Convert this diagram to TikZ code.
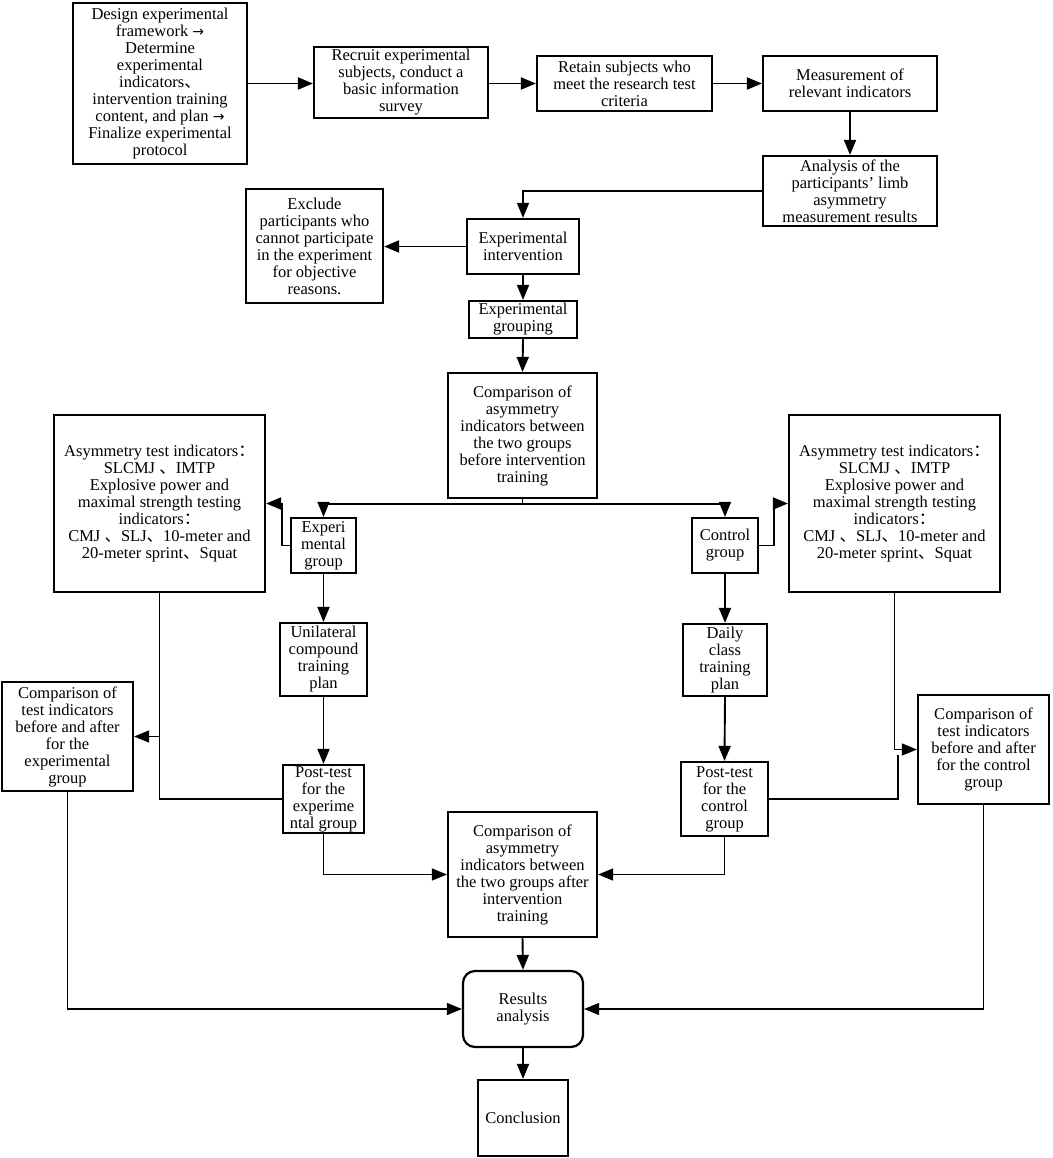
\documentclass[tikz,border=0pt]{standalone}
\usepackage{fontspec}
\setmainfont{Liberation Serif}
\newfontfamily\cjk{Noto Sans CJK SC}
\newfontfamily\symf{DejaVu Sans}
\usetikzlibrary{arrows.meta,calc}
\newcommand{\dun}{{\cjk 、}}
\newcommand{\fcolon}{{\cjk ：}}
\newcommand{\rarr}{{\symf\fontsize{14}{17}\selectfont →}}
\begin{document}
\begin{tikzpicture}[x=1pt,y=-1pt,
  box/.style={draw, line width=2.2pt, align=center, inner sep=1pt, font=\fontsize{16.5}{17}\selectfont},
  arr/.style={line width=1.9pt, -{Triangle[length=15pt,width=12pt]}},
  ln/.style={line width=1.9pt},
  thinln/.style={line width=1.4pt},
  thinarr/.style={line width=1.4pt, -{Triangle[length=15pt,width=12pt]}}]
\useasboundingbox[fill=white] (0,0) rectangle (1052,1158);

% top row
\node[box, minimum width=174pt, minimum height=161pt] (design) at (160,83.5)
  {Design experimental\\ framework \rarr\\ Determine\\ experimental\\ indicators\dun\\ intervention training\\ content, and plan \rarr\\ Finalize experimental\\ protocol};
\node[box, minimum width=174pt, minimum height=71pt] (recruit) at (401,82.5)
  {Recruit experimental\\ subjects, conduct a\\ basic information\\ survey};
\node[box, minimum width=175pt, minimum height=55pt] (retain) at (624.5,83.5)
  {Retain subjects who\\ meet the research test\\ criteria};
\node[box, minimum width=174pt, minimum height=55pt] (measure) at (850,83.5)
  {Measurement of\\ relevant indicators};
\node[box, minimum width=174pt, minimum height=70pt] (analysis) at (850,191)
  {Analysis of the\\ participants' limb\\ asymmetry\\ measurement results};
\node[box, minimum width=137pt, minimum height=114pt] (exclude) at (314.5,246)
  {Exclude\\ participants who\\ cannot participate\\ in the experiment\\ for objective\\ reasons.};
\node[box, minimum width=112pt, minimum height=55pt] (interv) at (523,246.5)
  {Experimental\\ intervention};
\node[box, minimum width=108pt, minimum height=37pt] (grouping) at (523,319.5)
  {Experimental\\ grouping};
\node[box, minimum width=149pt, minimum height=125pt] (compbefore) at (522.5,435.5)
  {Comparison of\\ asymmetry\\ indicators between\\ the two groups\\ before intervention\\ training};

% middle
\node[box, minimum width=211pt, minimum height=177pt] (asymL) at (159.5,503.5)
  {Asymmetry test indicators\fcolon\\ SLCMJ \dun IMTP\\ Explosive power and\\ maximal strength testing\\ indicators\fcolon\\ CMJ \dun SLJ\dun 10-meter and\\ 20-meter sprint\dun Squat};
\node[box, minimum width=211pt, minimum height=177pt] (asymR) at (894.5,503.5)
  {Asymmetry test indicators\fcolon\\ SLCMJ \dun IMTP\\ Explosive power and\\ maximal strength testing\\ indicators\fcolon\\ CMJ \dun SLJ\dun 10-meter and\\ 20-meter sprint\dun Squat};
\node[box, minimum width=65pt, minimum height=55pt] (expgrp) at (323.5,545.5)
  {Experi\\ mental\\ group};
\node[box, minimum width=66pt, minimum height=55pt] (ctrlgrp) at (725,545.5)
  {Control\\ group};
\node[box, minimum width=87pt, minimum height=73pt] (unilat) at (323.5,659.5)
  {Unilateral\\ compound\\ training\\ plan};
\node[box, minimum width=84pt, minimum height=72pt] (daily) at (725,660)
  {Daily\\ class\\ training\\ plan};
\node[box, minimum width=131pt, minimum height=109pt] (compL) at (67.5,736.5)
  {Comparison of\\ test indicators\\ before and after\\ for the\\ experimental\\ group};
\node[box, minimum width=131pt, minimum height=109pt] (compR) at (983.5,749.5)
  {Comparison of\\ test indicators\\ before and after\\ for the control\\ group};
\node[box, minimum width=81pt, minimum height=68pt] (postE) at (323.5,799)
  {Post-test\\ for the\\ experime\\ ntal group};
\node[box, minimum width=87pt, minimum height=74pt] (postC) at (724.5,799)
  {Post-test\\ for the\\ control\\ group};
\node[box, minimum width=149pt, minimum height=125pt] (compafter) at (522.5,874.5)
  {Comparison of\\ asymmetry\\ indicators between\\ the two groups after\\ intervention\\ training};
\node[box, rounded corners=12pt, minimum width=120pt, minimum height=76pt] (results) at (523,1009)
  {Results\\ analysis};
\node[box, minimum width=90pt, minimum height=76pt] (concl) at (523,1118)
  {Conclusion};

% coordinates
\coordinate (split) at (522.5,504);
\coordinate (pcend) at (898,755);

% connectors top
\draw[arr] (design.east) -- (design.east -| recruit.west);
\draw[arr] (recruit.east |- retain.west) -- (retain.west);
\draw[arr] (retain.east) -- (measure.west);
\draw[arr] (measure.south) -- (analysis.north);
\draw[thinarr] (analysis.west) -| (interv.north);
\draw[arr] (interv.west) -- (interv.west -| exclude.east);
\draw[arr] (interv.south) -- (grouping.north);
\draw[arr] (grouping.south) -- (compbefore.north);

% split
\draw[thinln] (compbefore.south) -- (split);
\draw[thinarr] (split) -| (expgrp.north);
\draw[thinarr] (split) -| (ctrlgrp.north);

% groups to asym boxes
\draw[arr] (expgrp.west) -- ++(-8,0) |- (asymL.east);
\draw[arr] (ctrlgrp.east) -- ++(15,0) |- (asymR.west);

% vertical chains
\draw[arr] (expgrp.south) -- (unilat.north);
\draw[arr] (unilat.south) -- (postE.north);
\draw[arr] (ctrlgrp.south) -- (daily.north);
\draw[arr] (daily.south) -- (postC.north);

% left side
\draw[thinln] (asymL.south) |- (postE.west);
\draw[thinarr] (asymL.south |- compL.east) -- (compL.east);
\draw[thinarr] (postE.south) |- (compafter.west);
\draw[thinarr] (compL.south) |- (results.west);

% right side
\draw[thinarr] (asymR.south) |- (compR.west);
\draw[thinln] (postC.east) -| (pcend);
\draw[thinarr] (postC.south) |- (compafter.east);
\draw[thinarr] (compR.south) |- (results.east);

% bottom
\draw[arr] (compafter.south) -- (results.north);
\draw[arr] (results.south) -- (concl.north);
\end{tikzpicture}
\end{document}
